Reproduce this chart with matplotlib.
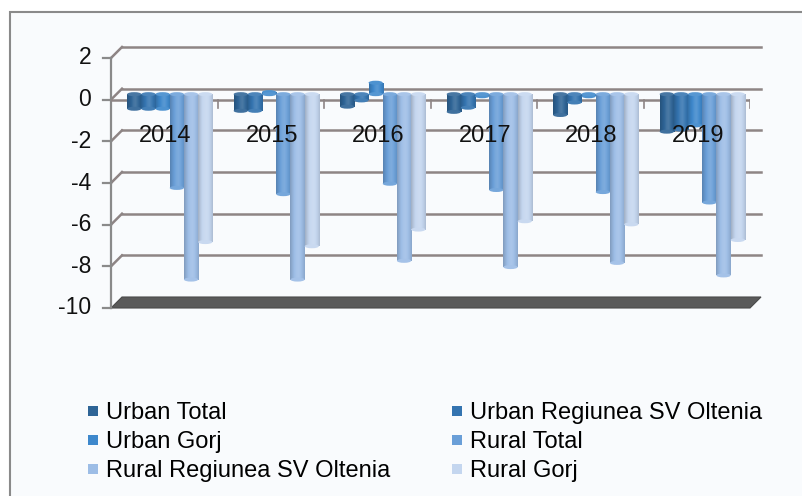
import numpy as np
import matplotlib
matplotlib.use('Agg')
from matplotlib import pyplot as plt
from matplotlib.patches import Polygon, Rectangle, Ellipse
from matplotlib.lines import Line2D
from matplotlib.colors import LinearSegmentedColormap, to_rgb

plt.rcParams['font.family'] = ['Liberation Sans', 'DejaVu Sans']

# data
years = ['2014', '2015', '2016', '2017', '2018', '2019']
urban_total = [-0.7, -0.8, -0.6, -0.85, -1.0, -1.8]
urban_sv = [-0.7, -0.8, -0.3, -0.65, -0.4, -1.7]
urban_gorj = [-0.7, 0.1, 0.55, -0.1, -0.1, -1.5]
rural_total = [-4.5, -4.8, -4.3, -4.6, -4.7, -5.2]
rural_sv = [-8.9, -8.9, -8.0, -8.3, -8.1, -8.7]
rural_gorj = [-7.1, -7.3, -6.5, -6.1, -6.25, -7.0]

series = [urban_total, urban_sv, urban_gorj, rural_total, rural_sv, rural_gorj]
names = ['Urban Total', 'Urban Regiunea SV Oltenia', 'Urban Gorj',
         'Rural Total', 'Rural Regiunea SV Oltenia', 'Rural Gorj']
colors = ['#2e6496', '#3474b0', '#3e88cc', '#6a9fd8', '#9dbde6', '#c4d6ef']
yticks = [2, 0, -2, -4, -6, -8, -10]

W, H = 802, 496
fig = plt.figure(figsize=(W / 100, H / 100), dpi=100)
fig.patch.set_facecolor('white')

# outer chart border (cut off at right and bottom like the source)
fig.patches.append(Rectangle((10 / W, -0.1), 1.0, (H - 12) / H + 0.1,
                             transform=fig.transFigure, facecolor='#f9fbfd',
                             edgecolor='#8a8a8a', lw=1.5, zorder=-5))

# plot box: front face of the 3d chart
x0, x1 = 111, 750
ytop, ybot = 58, 308
ax = fig.add_axes([x0 / W, (H - ybot) / H, (x1 - x0) / W, (ybot - ytop) / H])
ax.axis('off')

pxx = (x1 - x0) / len(years)
pxy = (ybot - ytop) / 12.0
dx, dy = 11 / pxx, 11 / pxy      # depth of back wall
grid_c = '#8e8585'

# back-wall gridlines and diagonals
for v in yticks[:-1]:
    ax.plot([dx, len(years) + dx], [v + dy, v + dy], color=grid_c, lw=1.8,
            clip_on=False, zorder=1)
    ax.plot([0, dx], [v, v + dy], color=grid_c, lw=1.8, clip_on=False, zorder=1)

# floor slab
ax.add_patch(Polygon([(0, -10), (len(years), -10), (len(years) + dx, -10 + dy),
                      (dx, -10 + dy)], closed=True, facecolor='#5a5a5a',
                     edgecolor='#4a4a4a', lw=0.8, clip_on=False, zorder=2))

# front value axis
ax.plot([0, 0], [2, -10], color='#8a8a8a', lw=1.6, clip_on=False, zorder=3)
for v in yticks:
    ax.plot([-8 / pxx, 0], [v, v], color='#8a8a8a', lw=1.6, clip_on=False, zorder=3)
    ax.text(-20 / pxx, v, str(v), ha='right', va='center',
            fontsize=16.5, color='#111111')

# category axis at zero
ax.plot([0, len(years)], [0, 0], color=grid_c, lw=1.8, zorder=3)
for k in range(1, len(years) + 1):
    ax.plot([k, k], [0, -8 / pxy], color=grid_c, lw=1.2, zorder=3)

# bars (cylinders halfway into the depth)
bw = 0.8 / len(series)
bx, by = 0.5 * dx, 0.5 * dy
xs = np.arange(len(years))
shade = np.array([0.82, 0.92, 1.0, 1.05, 1.07, 1.03, 0.96, 0.88])
for j, (vals, c) in enumerate(zip(series, colors)):
    base = np.array(to_rgb(c))
    cols = []
    for s in shade:
        if s <= 1:
            cols.append(base * s)
        else:
            cols.append(base + (1 - base) * (s - 1) * 2)
    cmap = LinearSegmentedColormap.from_list('cyl%d' % j, cols)
    grad = np.linspace(0, 1, 64).reshape(1, -1)
    left = xs + 0.1 + j * bw + bx
    bars = ax.bar(left, vals, width=bw, bottom=by, align='edge', color=c,
                  lw=0, zorder=5 + j)
    for b, v, l in zip(bars, vals, left):
        lo, hi = sorted([by, by + v])
        im = ax.imshow(grad, cmap=cmap, extent=[l, l + bw, lo, hi],
                       aspect='auto', zorder=5 + j, interpolation='bilinear')
        im.set_clip_path(b)
        # rounded ends of the cylinder
        ax.add_patch(Ellipse((l + bw / 2, by + v), bw, 4 / pxy,
                             facecolor=cmap(0.4), lw=0, zorder=5 + j))
        ax.add_patch(Ellipse((l + bw / 2, by), bw, 4 / pxy,
                             facecolor=cmap(0.6), lw=0, zorder=5 + j))
ax.set_xlim(0, len(years))
ax.set_ylim(-10, 2)

# category labels sit just under the zero line
for i, yr in enumerate(years):
    ax.text(i + 0.5 + 1 / pxx, -36 / pxy, yr, ha='center', va='center',
            fontsize=17, color='#111111', zorder=20)

# legend, row-major like the source
order = [0, 2, 4, 1, 3, 5]
handles = [Line2D([], [], ls='none', marker='s', markersize=7.5,
                  markerfacecolor=colors[i], markeredgewidth=0) for i in order]
fig.legend(handles, [names[i] for i in order], ncol=2, frameon=False,
           loc='upper left', bbox_to_anchor=(75 / W, 1 - 390 / H),
           fontsize=17, handlelength=0.5, handletextpad=0.3,
           labelspacing=0.3, columnspacing=2.6, borderpad=0)

fig.savefig('out.png', dpi=100)
